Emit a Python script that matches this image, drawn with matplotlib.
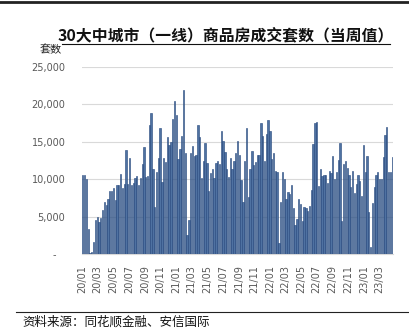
import matplotlib
matplotlib.use("Agg")
import matplotlib.pyplot as plt
import matplotlib.dates as mdates
import matplotlib.transforms as mtransforms
from matplotlib.lines import Line2D
import numpy as np
import datetime as dt

plt.rcParams['font.family'] = ['Noto Sans CJK SC', 'DejaVu Sans']

# Weekly transactions, 30 major cities (tier-1), units
values = [
    10600, 10500, 10000, 3300, 100, 300, 1600, 4600, 4900, 4300,
    4800, 5900, 7000, 6600, 7300, 8400, 8400, 8800, 7200, 9200,
    9200, 10700, 8800, 9300, 13900, 9300, 12800, 9200, 9500, 10100,
    10400, 9200, 10100, 12000, 14300, 10300, 10400, 17200, 18900, 11400,
    6300, 10900, 12800, 16800, 9600, 12900, 12300, 15600, 14600, 15000,
    18000, 20400, 18600, 12700, 14100, 15800, 21900, 13500, 2500, 4500,
    13500, 14400, 13100, 13300, 17300, 15700, 10200, 12400, 14800, 12100,
    8400, 10800, 11400, 10200, 12100, 12400, 12000, 16500, 15100, 13600,
    11300, 10300, 12800, 11400, 12400, 13500, 15100, 13300, 9900, 6900,
    12400, 16900, 7600, 11300, 13800, 11900, 12300, 13300, 13300, 17500,
    15800, 12400, 16100, 17900, 16500, 12700, 13500, 11100, 10900, 1500,
    7000, 11000, 10000, 7400, 8300, 8000, 9200, 6200, 3900, 4700,
    7300, 6700, 4400, 6300, 6100, 5700, 6400, 8600, 14700, 17500,
    17600, 9100, 11400, 10400, 10600, 10600, 9500, 11100, 10800, 13100,
    10000, 10900, 12600, 14800, 4400, 12000, 12400, 11500, 10500, 9000,
    11100, 8100, 9300, 10500, 9800, 7700, 14600, 10900, 13100, 5600,
    1000, 6800, 9000, 10500, 11000, 10000, 10000, 13000, 15900, 17000,
    10900, 10900, 13000,
]
start = dt.date(2020, 1, 3)
weeks = [start + dt.timedelta(weeks=i) for i in range(len(values))]

yticks = [0, 5000, 10000, 15000, 20000, 25000]
tick_months = [dt.date(2020 + (m // 12), m % 12 + 1, 1) for m in range(0, 40, 2)]

title = "30大中城市（一线）商品房成交套数（当周值）"
ylabel = "套数"
source = "资料来源：同花顺金融、安信国际"

W, H = 409, 329
fig = plt.figure(figsize=(W / 100, H / 100), dpi=100)
ax = fig.add_axes([82 / W, (H - 254) / H, (393 - 82) / W, (254 - 67) / H])

ax.bar(weeks, values, width=5.0, color='#4f72a2', edgecolor='#23457a',
       linewidth=0.4, zorder=3)

ax.set_ylim(0, 25000)
ax.set_xlim(start - dt.timedelta(days=3), weeks[-1] + dt.timedelta(days=3))
ax.set_yticks(yticks)
ax.set_yticklabels(['-' if v == 0 else f"{v:,}" for v in yticks])
ax.grid(axis='y', color='#d9d9d9', linewidth=0.8, zorder=0)
ax.set_xticks(tick_months)
ax.xaxis.set_major_formatter(mdates.DateFormatter('%y/%m'))

for s in ['top', 'right', 'left']:
    ax.spines[s].set_visible(False)
ax.spines['bottom'].set_color('#d9d9d9')
ax.spines['bottom'].set_linewidth(0.8)

ax.tick_params(axis='y', length=0, pad=12, labelsize=7, labelcolor='#595959')
ax.tick_params(axis='x', length=0, pad=8, labelsize=7, labelcolor='#595959',
               labelrotation=90)
for lab in ax.get_yticklabels():
    lab.set_fontfamily(['DejaVu Sans'])
for lab in ax.get_xticklabels():
    lab.set_fontfamily(['DejaVu Sans'])
    lab.set_verticalalignment('top')

# shift the zero label to the left, as in accounting format
zero_lab = ax.get_yticklabels()[0]
zero_lab.set_transform(zero_lab.get_transform() +
                       mtransforms.ScaledTranslation(-7 / 72, 0, fig.dpi_scale_trans))

# frame lines and texts
fig.add_artist(Line2D([0, 1], [1 - 1.5 / H, 1 - 1.5 / H], transform=fig.transFigure,
                      color='#222222', linewidth=2.0))
fig.text(226 / W, 1 - 35 / H, title, ha='center', va='center', fontsize=11.4,
         fontweight='bold', color='#111111')
fig.add_artist(Line2D([62 / W, 390 / W], [1 - 44 / H, 1 - 44 / H],
                      transform=fig.transFigure, color='#111111', linewidth=0.8))
fig.text(40 / W, 1 - 50 / H, ylabel, ha='left', va='center', fontsize=8,
         color='#222222')
fig.add_artist(Line2D([16 / W, 1], [1 - 312 / H, 1 - 312 / H],
                      transform=fig.transFigure, color='#222222', linewidth=0.8))
fig.text(22 / W, 1 - 322 / H, source, ha='left', va='center', fontsize=9,
         style='italic', color='#111111')

fig.savefig('out.png', dpi=100)
